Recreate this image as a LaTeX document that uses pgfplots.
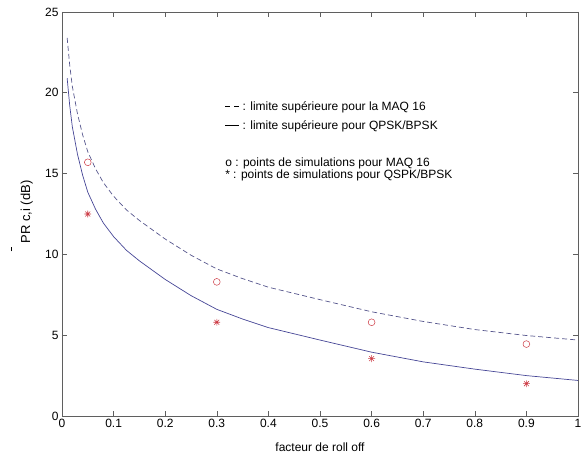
\documentclass[border=0pt]{standalone}
\usepackage{fontspec}
\setmainfont{Liberation Sans}
\usepackage{pgfplots}
\pgfplotsset{compat=1.18}

\definecolor{curveblue}{RGB}{70,70,150}
\definecolor{dashblue}{RGB}{85,85,140}
\definecolor{mred}{RGB}{205,60,70}
\definecolor{axgray}{RGB}{95,95,95}

% MATLAB-like '*' marker: a plus and a cross
\pgfdeclareplotmark{matstar}{%
  \pgfpathmoveto{\pgfqpoint{-\pgfplotmarksize}{0pt}}%
  \pgfpathlineto{\pgfqpoint{\pgfplotmarksize}{0pt}}%
  \pgfpathmoveto{\pgfqpoint{0pt}{-\pgfplotmarksize}}%
  \pgfpathlineto{\pgfqpoint{0pt}{\pgfplotmarksize}}%
  \pgfpathmoveto{\pgfqpoint{-0.707\pgfplotmarksize}{-0.707\pgfplotmarksize}}%
  \pgfpathlineto{\pgfqpoint{0.707\pgfplotmarksize}{0.707\pgfplotmarksize}}%
  \pgfpathmoveto{\pgfqpoint{-0.707\pgfplotmarksize}{0.707\pgfplotmarksize}}%
  \pgfpathlineto{\pgfqpoint{0.707\pgfplotmarksize}{-0.707\pgfplotmarksize}}%
  \pgfusepathqstroke}

\newcommand{\lbl}{\fontsize{12}{14.4}\selectfont}

\begin{document}
\begin{tikzpicture}
\begin{axis}[
    name=ax,
    scale only axis,
    width=516pt,
    height=404pt,
    xmin=0, xmax=1,
    ymin=0, ymax=25,
    xtick={0,0.1,0.2,0.3,0.4,0.5,0.6,0.7,0.8,0.9,1},
    ytick={0,5,10,15,20,25},
    tick align=inside,
    major tick length=5pt,
    tick style={axgray, line width=0.6pt},
    axis line style={axgray, line width=0.8pt},
    ticklabel style={font=\lbl},
    /pgf/number format/assume math mode=true,
    xlabel={facteur de roll off},
    xlabel style={font=\lbl, at={(axis description cs:0.5,-0.089)}, anchor=base},
    ylabel={\makebox[0pt][r]{\raisebox{18pt}{\rule{4pt}{0.6pt}}}\hspace{4pt}PR c,i (dB)},
    ylabel style={font=\fontsize{13}{15}\selectfont, at={(axis description cs:-0.062,0.5)}, anchor=base},
    clip=false,
]

% upper bound, MAQ 16 (dashed)
\addplot[dashblue, line width=0.7pt, dash pattern=on 5pt off 3pt] coordinates {
    (0.01,23.4) (0.015,21.7) (0.02,20.4) (0.03,18.7) (0.04,17.4)
    (0.05,16.35) (0.065,15.3) (0.08,14.45) (0.1,13.6) (0.125,12.75)
    (0.15,12.1) (0.2,10.95) (0.25,9.95) (0.3,9.1) (0.35,8.5)
    (0.4,7.97) (0.5,7.2) (0.6,6.45) (0.7,5.85) (0.8,5.35)
    (0.9,4.98) (1.0,4.7)
};

% upper bound, QPSK/BPSK (solid)
\addplot[curveblue, line width=0.7pt] coordinates {
    (0.01,20.9) (0.015,19.2) (0.02,17.9) (0.03,16.2) (0.04,14.9)
    (0.05,13.85) (0.065,12.8) (0.08,11.95) (0.1,11.1) (0.125,10.25)
    (0.15,9.6) (0.2,8.45) (0.25,7.45) (0.3,6.6) (0.35,6.0)
    (0.4,5.47) (0.5,4.7) (0.6,3.95) (0.7,3.35) (0.8,2.9)
    (0.9,2.5) (1.0,2.2)
};

% simulation points, MAQ 16
\addplot[only marks, mark=o, mark size=3.4pt, mred, line width=0.5pt] coordinates {
    (0.05,15.7) (0.3,8.3) (0.6,5.8) (0.9,4.45)
};

% simulation points, QPSK/BPSK
\addplot[only marks, mark=matstar, mark size=3.4pt, mred, line width=0.6pt] coordinates {
    (0.05,12.5) (0.3,5.8) (0.6,3.55) (0.9,2.0)
};

\begin{scope}[every node/.style={anchor=west, inner sep=0pt, font=\lbl}]
\node at (axis cs:0.316,19.12) {\rule[0.3em]{5pt}{0.7pt}\hspace{4pt}\rule[0.3em]{5pt}{0.7pt} : limite supérieure pour la MAQ 16};
\node at (axis cs:0.316,17.95) {\rule[0.3em]{14pt}{0.7pt} : limite supérieure pour QPSK/BPSK};
\node at (axis cs:0.316,15.66) {o : points de simulations pour MAQ 16};
\node at (axis cs:0.316,14.91) {* : points de simulations pour QSPK/BPSK};
\end{scope}
\end{axis}
\pgfresetboundingbox
\path[use as bounding box] ([shift={(-62pt,-45pt)}]ax.south west) rectangle ([shift={(9pt,12pt)}]ax.north east);
\end{tikzpicture}
\end{document}
